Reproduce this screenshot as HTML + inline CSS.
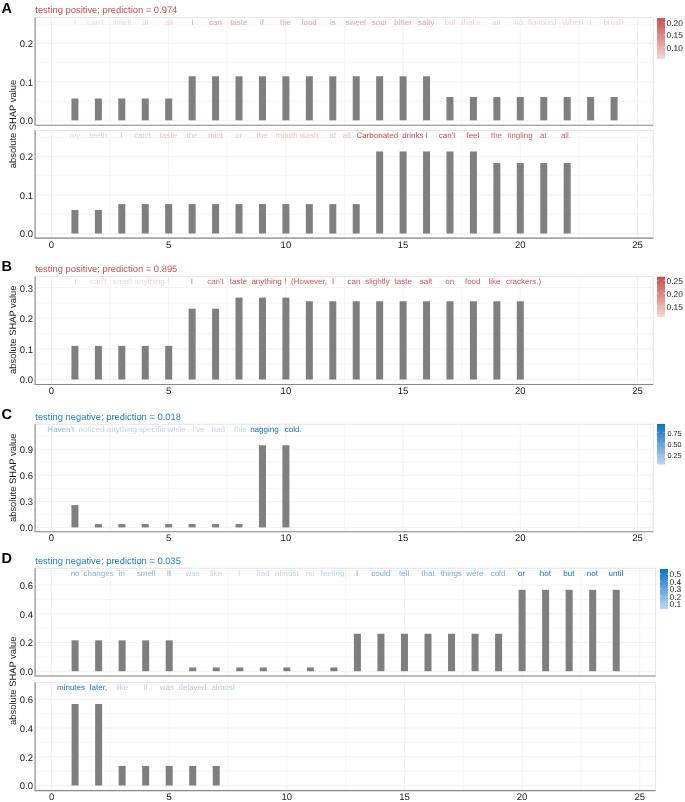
<!DOCTYPE html>
<html><head><meta charset="utf-8"><title>SHAP</title>
<style>html,body{margin:0;padding:0;background:#fff;width:685px;height:802px;overflow:hidden;}svg{display:block;-webkit-font-smoothing:antialiased;will-change:transform;} text{font-family:"Liberation Sans", sans-serif;text-rendering:geometricPrecision;}</style>
</head><body>
<svg width="685" height="802" viewBox="0 0 685 802" font-family='"Liberation Sans", sans-serif'>
<rect width="685" height="802" fill="#ffffff"/>
<text x="1.6" y="13.3" font-size="14.5" font-weight="bold" fill="#000">A</text>
<text x="35.3" y="12.7" font-size="9.4" fill="#cc4f4f">testing positive; prediction = 0.974</text>
<line x1="35.1" x2="653.3" y1="101.06" y2="101.06" stroke="#f4f4f4" stroke-width="0.8"/>
<line x1="35.1" x2="653.3" y1="62.58" y2="62.58" stroke="#f4f4f4" stroke-width="0.8"/>
<line x1="35.1" x2="653.3" y1="24.10" y2="24.10" stroke="#f4f4f4" stroke-width="0.8"/>
<line x1="35.1" x2="653.3" y1="120.30" y2="120.30" stroke="#efefef" stroke-width="0.9"/>
<line x1="35.1" x2="653.3" y1="81.82" y2="81.82" stroke="#efefef" stroke-width="0.9"/>
<line x1="35.1" x2="653.3" y1="43.34" y2="43.34" stroke="#efefef" stroke-width="0.9"/>
<line x1="51.50" x2="51.50" y1="17.6" y2="125.2" stroke="#efefef" stroke-width="0.9"/>
<line x1="110.10" x2="110.10" y1="17.6" y2="125.2" stroke="#f4f4f4" stroke-width="0.8"/>
<line x1="168.70" x2="168.70" y1="17.6" y2="125.2" stroke="#efefef" stroke-width="0.9"/>
<line x1="227.30" x2="227.30" y1="17.6" y2="125.2" stroke="#f4f4f4" stroke-width="0.8"/>
<line x1="285.90" x2="285.90" y1="17.6" y2="125.2" stroke="#efefef" stroke-width="0.9"/>
<line x1="344.50" x2="344.50" y1="17.6" y2="125.2" stroke="#f4f4f4" stroke-width="0.8"/>
<line x1="403.10" x2="403.10" y1="17.6" y2="125.2" stroke="#efefef" stroke-width="0.9"/>
<line x1="461.70" x2="461.70" y1="17.6" y2="125.2" stroke="#f4f4f4" stroke-width="0.8"/>
<line x1="520.30" x2="520.30" y1="17.6" y2="125.2" stroke="#efefef" stroke-width="0.9"/>
<line x1="578.90" x2="578.90" y1="17.6" y2="125.2" stroke="#f4f4f4" stroke-width="0.8"/>
<line x1="637.50" x2="637.50" y1="17.6" y2="125.2" stroke="#efefef" stroke-width="0.9"/>
<rect x="35.1" y="17.6" width="618.20" height="107.60" fill="none" stroke="#e6e6e6" stroke-width="1"/>
<rect x="71.44" y="98.52" width="7.0" height="21.78" fill="#7f7f7f"/>
<rect x="94.88" y="98.52" width="7.0" height="21.78" fill="#7f7f7f"/>
<rect x="118.32" y="98.52" width="7.0" height="21.78" fill="#7f7f7f"/>
<rect x="141.76" y="98.52" width="7.0" height="21.78" fill="#7f7f7f"/>
<rect x="165.20" y="98.52" width="7.0" height="21.78" fill="#7f7f7f"/>
<rect x="188.64" y="76.28" width="7.0" height="44.02" fill="#7f7f7f"/>
<rect x="212.08" y="76.28" width="7.0" height="44.02" fill="#7f7f7f"/>
<rect x="235.52" y="76.28" width="7.0" height="44.02" fill="#7f7f7f"/>
<rect x="258.96" y="76.28" width="7.0" height="44.02" fill="#7f7f7f"/>
<rect x="282.40" y="76.28" width="7.0" height="44.02" fill="#7f7f7f"/>
<rect x="305.84" y="76.28" width="7.0" height="44.02" fill="#7f7f7f"/>
<rect x="329.28" y="76.28" width="7.0" height="44.02" fill="#7f7f7f"/>
<rect x="352.72" y="76.28" width="7.0" height="44.02" fill="#7f7f7f"/>
<rect x="376.16" y="76.28" width="7.0" height="44.02" fill="#7f7f7f"/>
<rect x="399.60" y="76.28" width="7.0" height="44.02" fill="#7f7f7f"/>
<rect x="423.04" y="76.28" width="7.0" height="44.02" fill="#7f7f7f"/>
<rect x="446.48" y="97.02" width="7.0" height="23.28" fill="#7f7f7f"/>
<rect x="469.92" y="97.02" width="7.0" height="23.28" fill="#7f7f7f"/>
<rect x="493.36" y="97.02" width="7.0" height="23.28" fill="#7f7f7f"/>
<rect x="516.80" y="97.02" width="7.0" height="23.28" fill="#7f7f7f"/>
<rect x="540.24" y="97.02" width="7.0" height="23.28" fill="#7f7f7f"/>
<rect x="563.68" y="97.02" width="7.0" height="23.28" fill="#7f7f7f"/>
<rect x="587.12" y="97.02" width="7.0" height="23.28" fill="#7f7f7f"/>
<rect x="610.56" y="97.02" width="7.0" height="23.28" fill="#7f7f7f"/>
<text x="75.00" y="24.80" font-size="8.0" text-anchor="middle" fill="#f4d6d6">I</text>
<text x="95.70" y="24.80" font-size="8.0" text-anchor="middle" fill="#f4d6d6">can't</text>
<text x="121.80" y="24.80" font-size="8.0" text-anchor="middle" fill="#f4d6d6">smell</text>
<text x="145.30" y="24.80" font-size="8.0" text-anchor="middle" fill="#f4d6d6">at</text>
<text x="168.70" y="24.80" font-size="8.0" text-anchor="middle" fill="#f4d6d6">all</text>
<text x="192.30" y="24.80" font-size="8.0" text-anchor="middle" fill="#e5a3a3">I</text>
<text x="215.40" y="24.80" font-size="8.0" text-anchor="middle" fill="#e5a3a3">can</text>
<text x="238.80" y="24.80" font-size="8.0" text-anchor="middle" fill="#e5a3a3">taste</text>
<text x="261.90" y="24.80" font-size="8.0" text-anchor="middle" fill="#e5a3a3">if</text>
<text x="285.50" y="24.80" font-size="8.0" text-anchor="middle" fill="#e5a3a3">the</text>
<text x="309.00" y="24.80" font-size="8.0" text-anchor="middle" fill="#e5a3a3">food</text>
<text x="332.80" y="24.80" font-size="8.0" text-anchor="middle" fill="#e5a3a3">is</text>
<text x="355.90" y="24.80" font-size="8.0" text-anchor="middle" fill="#e5a3a3">sweet</text>
<text x="379.50" y="24.80" font-size="8.0" text-anchor="middle" fill="#e5a3a3">sour</text>
<text x="403.00" y="24.80" font-size="8.0" text-anchor="middle" fill="#e5a3a3">bitter</text>
<text x="426.30" y="24.80" font-size="8.0" text-anchor="middle" fill="#e5a3a3">salty</text>
<text x="450.00" y="24.80" font-size="8.0" text-anchor="middle" fill="#f3d2d2">but</text>
<text x="470.80" y="24.80" font-size="8.0" text-anchor="middle" fill="#f3d2d2">that's</text>
<text x="496.20" y="24.80" font-size="8.0" text-anchor="middle" fill="#f3d2d2">all</text>
<text x="518.80" y="24.80" font-size="8.0" text-anchor="middle" fill="#f3d2d2">no</text>
<text x="542.20" y="24.80" font-size="8.0" text-anchor="middle" fill="#f3d2d2">flavored</text>
<text x="572.70" y="24.80" font-size="8.0" text-anchor="middle" fill="#f3d2d2">When</text>
<text x="590.60" y="24.80" font-size="8.0" text-anchor="middle" fill="#f3d2d2">I</text>
<text x="613.40" y="24.80" font-size="8.0" text-anchor="middle" fill="#f3d2d2">brush</text>
<line x1="35.1" x2="35.1" y1="17.6" y2="125.2" stroke="#8a8a8a" stroke-width="1.1"/>
<line x1="34.550000000000004" x2="653.3" y1="125.2" y2="125.2" stroke="#8a8a8a" stroke-width="1.1"/>
<text x="33" y="124.10" font-size="9.5" text-anchor="end" fill="#1a1a1a">0.0</text>
<text x="33" y="85.62" font-size="9.5" text-anchor="end" fill="#1a1a1a">0.1</text>
<text x="33" y="47.14" font-size="9.5" text-anchor="end" fill="#1a1a1a">0.2</text>
<line x1="35.1" x2="653.3" y1="214.26" y2="214.26" stroke="#f4f4f4" stroke-width="0.8"/>
<line x1="35.1" x2="653.3" y1="175.78" y2="175.78" stroke="#f4f4f4" stroke-width="0.8"/>
<line x1="35.1" x2="653.3" y1="137.30" y2="137.30" stroke="#f4f4f4" stroke-width="0.8"/>
<line x1="35.1" x2="653.3" y1="233.50" y2="233.50" stroke="#efefef" stroke-width="0.9"/>
<line x1="35.1" x2="653.3" y1="195.02" y2="195.02" stroke="#efefef" stroke-width="0.9"/>
<line x1="35.1" x2="653.3" y1="156.54" y2="156.54" stroke="#efefef" stroke-width="0.9"/>
<line x1="51.50" x2="51.50" y1="130.4" y2="238.1" stroke="#efefef" stroke-width="0.9"/>
<line x1="110.10" x2="110.10" y1="130.4" y2="238.1" stroke="#f4f4f4" stroke-width="0.8"/>
<line x1="168.70" x2="168.70" y1="130.4" y2="238.1" stroke="#efefef" stroke-width="0.9"/>
<line x1="227.30" x2="227.30" y1="130.4" y2="238.1" stroke="#f4f4f4" stroke-width="0.8"/>
<line x1="285.90" x2="285.90" y1="130.4" y2="238.1" stroke="#efefef" stroke-width="0.9"/>
<line x1="344.50" x2="344.50" y1="130.4" y2="238.1" stroke="#f4f4f4" stroke-width="0.8"/>
<line x1="403.10" x2="403.10" y1="130.4" y2="238.1" stroke="#efefef" stroke-width="0.9"/>
<line x1="461.70" x2="461.70" y1="130.4" y2="238.1" stroke="#f4f4f4" stroke-width="0.8"/>
<line x1="520.30" x2="520.30" y1="130.4" y2="238.1" stroke="#efefef" stroke-width="0.9"/>
<line x1="578.90" x2="578.90" y1="130.4" y2="238.1" stroke="#f4f4f4" stroke-width="0.8"/>
<line x1="637.50" x2="637.50" y1="130.4" y2="238.1" stroke="#efefef" stroke-width="0.9"/>
<rect x="35.1" y="130.4" width="618.20" height="107.70" fill="none" stroke="#e6e6e6" stroke-width="1"/>
<rect x="71.44" y="209.99" width="7.0" height="23.51" fill="#7f7f7f"/>
<rect x="94.88" y="209.99" width="7.0" height="23.51" fill="#7f7f7f"/>
<rect x="118.32" y="204.10" width="7.0" height="29.40" fill="#7f7f7f"/>
<rect x="141.76" y="204.10" width="7.0" height="29.40" fill="#7f7f7f"/>
<rect x="165.20" y="204.10" width="7.0" height="29.40" fill="#7f7f7f"/>
<rect x="188.64" y="204.10" width="7.0" height="29.40" fill="#7f7f7f"/>
<rect x="212.08" y="204.10" width="7.0" height="29.40" fill="#7f7f7f"/>
<rect x="235.52" y="204.10" width="7.0" height="29.40" fill="#7f7f7f"/>
<rect x="258.96" y="204.10" width="7.0" height="29.40" fill="#7f7f7f"/>
<rect x="282.40" y="204.10" width="7.0" height="29.40" fill="#7f7f7f"/>
<rect x="305.84" y="204.10" width="7.0" height="29.40" fill="#7f7f7f"/>
<rect x="329.28" y="204.10" width="7.0" height="29.40" fill="#7f7f7f"/>
<rect x="352.72" y="204.10" width="7.0" height="29.40" fill="#7f7f7f"/>
<rect x="376.16" y="151.46" width="7.0" height="82.04" fill="#7f7f7f"/>
<rect x="399.60" y="151.46" width="7.0" height="82.04" fill="#7f7f7f"/>
<rect x="423.04" y="151.46" width="7.0" height="82.04" fill="#7f7f7f"/>
<rect x="446.48" y="151.46" width="7.0" height="82.04" fill="#7f7f7f"/>
<rect x="469.92" y="151.46" width="7.0" height="82.04" fill="#7f7f7f"/>
<rect x="493.36" y="163.08" width="7.0" height="70.42" fill="#7f7f7f"/>
<rect x="516.80" y="163.08" width="7.0" height="70.42" fill="#7f7f7f"/>
<rect x="540.24" y="163.08" width="7.0" height="70.42" fill="#7f7f7f"/>
<rect x="563.68" y="163.08" width="7.0" height="70.42" fill="#7f7f7f"/>
<text x="75.00" y="137.60" font-size="8.0" text-anchor="middle" fill="#f3d2d2">my</text>
<text x="98.30" y="137.60" font-size="8.0" text-anchor="middle" fill="#f3d2d2">teeth</text>
<text x="121.60" y="137.60" font-size="8.0" text-anchor="middle" fill="#efc5c5">I</text>
<text x="142.40" y="137.60" font-size="8.0" text-anchor="middle" fill="#efc5c5">can't</text>
<text x="168.50" y="137.60" font-size="8.0" text-anchor="middle" fill="#efc5c5">taste</text>
<text x="192.00" y="137.60" font-size="8.0" text-anchor="middle" fill="#efc5c5">the</text>
<text x="215.50" y="137.60" font-size="8.0" text-anchor="middle" fill="#efc5c5">mint</text>
<text x="238.80" y="137.60" font-size="8.0" text-anchor="middle" fill="#efc5c5">or</text>
<text x="262.10" y="137.60" font-size="8.0" text-anchor="middle" fill="#efc5c5">the</text>
<text x="286.60" y="137.60" font-size="8.0" text-anchor="middle" fill="#efc5c5">mouth</text>
<text x="309.00" y="137.60" font-size="8.0" text-anchor="middle" fill="#efc5c5">wash</text>
<text x="332.60" y="137.60" font-size="8.0" text-anchor="middle" fill="#efc5c5">at</text>
<text x="347.90" y="137.60" font-size="8.0" text-anchor="middle" fill="#efc5c5">all.</text>
<text x="377.30" y="137.60" font-size="8.0" text-anchor="middle" fill="#cc4c4c">Carbonated</text>
<text x="412.80" y="137.60" font-size="8.0" text-anchor="middle" fill="#cc4c4c">drinks</text>
<text x="426.30" y="137.60" font-size="8.0" text-anchor="middle" fill="#cc4c4c">I</text>
<text x="447.20" y="137.60" font-size="8.0" text-anchor="middle" fill="#cc4c4c">can't</text>
<text x="472.90" y="137.60" font-size="8.0" text-anchor="middle" fill="#cc4c4c">feel</text>
<text x="496.50" y="137.60" font-size="8.0" text-anchor="middle" fill="#d46767">the</text>
<text x="520.10" y="137.60" font-size="8.0" text-anchor="middle" fill="#d46767">tingling</text>
<text x="543.40" y="137.60" font-size="8.0" text-anchor="middle" fill="#d46767">at</text>
<text x="566.00" y="137.60" font-size="8.0" text-anchor="middle" fill="#d46767">all.</text>
<line x1="35.1" x2="35.1" y1="130.4" y2="238.1" stroke="#8a8a8a" stroke-width="1.1"/>
<line x1="34.550000000000004" x2="653.3" y1="238.1" y2="238.1" stroke="#8a8a8a" stroke-width="1.1"/>
<text x="33" y="237.30" font-size="9.5" text-anchor="end" fill="#1a1a1a">0.0</text>
<text x="33" y="198.82" font-size="9.5" text-anchor="end" fill="#1a1a1a">0.1</text>
<text x="33" y="160.34" font-size="9.5" text-anchor="end" fill="#1a1a1a">0.2</text>
<text x="51.50" y="247.70" font-size="9.5" text-anchor="middle" fill="#1a1a1a">0</text>
<text x="168.70" y="247.70" font-size="9.5" text-anchor="middle" fill="#1a1a1a">5</text>
<text x="285.90" y="247.70" font-size="9.5" text-anchor="middle" fill="#1a1a1a">10</text>
<text x="403.10" y="247.70" font-size="9.5" text-anchor="middle" fill="#1a1a1a">15</text>
<text x="520.30" y="247.70" font-size="9.5" text-anchor="middle" fill="#1a1a1a">20</text>
<text x="637.50" y="247.70" font-size="9.5" text-anchor="middle" fill="#1a1a1a">25</text>
<text transform="translate(16.2,124.0) rotate(-90)" font-size="9.4" text-anchor="middle" fill="#1a1a1a">absolute SHAP value</text>
<defs><linearGradient id="g18" x1="0" y1="0" x2="0" y2="1"><stop offset="0" stop-color="#cc4c4c"/><stop offset="1" stop-color="#f4d6d6"/></linearGradient></defs>
<rect x="657" y="18.1" width="8" height="40.80" fill="url(#g18)"/>
<line x1="657" x2="658.6" y1="22.36" y2="22.36" stroke="#ffffff" stroke-opacity="0.6" stroke-width="0.6"/>
<line x1="663.4" x2="665" y1="22.36" y2="22.36" stroke="#ffffff" stroke-opacity="0.6" stroke-width="0.6"/>
<text x="666.6" y="25.74" font-size="8.4" fill="#1a1a1a">0.20</text>
<line x1="657" x2="658.6" y1="34.87" y2="34.87" stroke="#ffffff" stroke-opacity="0.6" stroke-width="0.6"/>
<line x1="663.4" x2="665" y1="34.87" y2="34.87" stroke="#ffffff" stroke-opacity="0.6" stroke-width="0.6"/>
<text x="666.6" y="38.25" font-size="8.4" fill="#1a1a1a">0.15</text>
<line x1="657" x2="658.6" y1="47.39" y2="47.39" stroke="#ffffff" stroke-opacity="0.6" stroke-width="0.6"/>
<line x1="663.4" x2="665" y1="47.39" y2="47.39" stroke="#ffffff" stroke-opacity="0.6" stroke-width="0.6"/>
<text x="666.6" y="50.77" font-size="8.4" fill="#1a1a1a">0.10</text>
<text x="1.6" y="271.2" font-size="14.5" font-weight="bold" fill="#000">B</text>
<text x="35.3" y="272.0" font-size="9.4" fill="#cc4f4f">testing positive; prediction = 0.895</text>
<line x1="35.1" x2="653.3" y1="364.20" y2="364.20" stroke="#f4f4f4" stroke-width="0.8"/>
<line x1="35.1" x2="653.3" y1="333.60" y2="333.60" stroke="#f4f4f4" stroke-width="0.8"/>
<line x1="35.1" x2="653.3" y1="303.00" y2="303.00" stroke="#f4f4f4" stroke-width="0.8"/>
<line x1="35.1" x2="653.3" y1="379.50" y2="379.50" stroke="#efefef" stroke-width="0.9"/>
<line x1="35.1" x2="653.3" y1="348.90" y2="348.90" stroke="#efefef" stroke-width="0.9"/>
<line x1="35.1" x2="653.3" y1="318.30" y2="318.30" stroke="#efefef" stroke-width="0.9"/>
<line x1="35.1" x2="653.3" y1="287.70" y2="287.70" stroke="#efefef" stroke-width="0.9"/>
<line x1="51.50" x2="51.50" y1="276.6" y2="384.5" stroke="#efefef" stroke-width="0.9"/>
<line x1="110.10" x2="110.10" y1="276.6" y2="384.5" stroke="#f4f4f4" stroke-width="0.8"/>
<line x1="168.70" x2="168.70" y1="276.6" y2="384.5" stroke="#efefef" stroke-width="0.9"/>
<line x1="227.30" x2="227.30" y1="276.6" y2="384.5" stroke="#f4f4f4" stroke-width="0.8"/>
<line x1="285.90" x2="285.90" y1="276.6" y2="384.5" stroke="#efefef" stroke-width="0.9"/>
<line x1="344.50" x2="344.50" y1="276.6" y2="384.5" stroke="#f4f4f4" stroke-width="0.8"/>
<line x1="403.10" x2="403.10" y1="276.6" y2="384.5" stroke="#efefef" stroke-width="0.9"/>
<line x1="461.70" x2="461.70" y1="276.6" y2="384.5" stroke="#f4f4f4" stroke-width="0.8"/>
<line x1="520.30" x2="520.30" y1="276.6" y2="384.5" stroke="#efefef" stroke-width="0.9"/>
<line x1="578.90" x2="578.90" y1="276.6" y2="384.5" stroke="#f4f4f4" stroke-width="0.8"/>
<line x1="637.50" x2="637.50" y1="276.6" y2="384.5" stroke="#efefef" stroke-width="0.9"/>
<rect x="35.1" y="276.6" width="618.20" height="107.90" fill="none" stroke="#e6e6e6" stroke-width="1"/>
<rect x="71.44" y="345.90" width="7.0" height="33.60" fill="#7f7f7f"/>
<rect x="94.88" y="345.90" width="7.0" height="33.60" fill="#7f7f7f"/>
<rect x="118.32" y="345.90" width="7.0" height="33.60" fill="#7f7f7f"/>
<rect x="141.76" y="345.90" width="7.0" height="33.60" fill="#7f7f7f"/>
<rect x="165.20" y="345.90" width="7.0" height="33.60" fill="#7f7f7f"/>
<rect x="188.64" y="308.69" width="7.0" height="70.81" fill="#7f7f7f"/>
<rect x="212.08" y="308.69" width="7.0" height="70.81" fill="#7f7f7f"/>
<rect x="235.52" y="297.61" width="7.0" height="81.89" fill="#7f7f7f"/>
<rect x="258.96" y="297.61" width="7.0" height="81.89" fill="#7f7f7f"/>
<rect x="282.40" y="297.61" width="7.0" height="81.89" fill="#7f7f7f"/>
<rect x="305.84" y="301.29" width="7.0" height="78.21" fill="#7f7f7f"/>
<rect x="329.28" y="301.29" width="7.0" height="78.21" fill="#7f7f7f"/>
<rect x="352.72" y="301.29" width="7.0" height="78.21" fill="#7f7f7f"/>
<rect x="376.16" y="301.29" width="7.0" height="78.21" fill="#7f7f7f"/>
<rect x="399.60" y="301.29" width="7.0" height="78.21" fill="#7f7f7f"/>
<rect x="423.04" y="301.29" width="7.0" height="78.21" fill="#7f7f7f"/>
<rect x="446.48" y="301.29" width="7.0" height="78.21" fill="#7f7f7f"/>
<rect x="469.92" y="301.29" width="7.0" height="78.21" fill="#7f7f7f"/>
<rect x="493.36" y="301.29" width="7.0" height="78.21" fill="#7f7f7f"/>
<rect x="516.80" y="301.29" width="7.0" height="78.21" fill="#7f7f7f"/>
<text x="75.30" y="284.00" font-size="8.0" text-anchor="middle" fill="#f4d6d6">I</text>
<text x="98.40" y="284.00" font-size="8.0" text-anchor="middle" fill="#f4d6d6">can't</text>
<text x="122.60" y="284.00" font-size="8.0" text-anchor="middle" fill="#f4d6d6">smell</text>
<text x="149.70" y="284.00" font-size="8.0" text-anchor="middle" fill="#f4d6d6">anything</text>
<text x="168.60" y="284.00" font-size="8.0" text-anchor="middle" fill="#f4d6d6">!</text>
<text x="191.80" y="284.00" font-size="8.0" text-anchor="middle" fill="#d56c6c">I</text>
<text x="215.50" y="284.00" font-size="8.0" text-anchor="middle" fill="#d56c6c">can't</text>
<text x="238.50" y="284.00" font-size="8.0" text-anchor="middle" fill="#cc4c4c">taste</text>
<text x="266.50" y="284.00" font-size="8.0" text-anchor="middle" fill="#cc4c4c">anything</text>
<text x="285.30" y="284.00" font-size="8.0" text-anchor="middle" fill="#cc4c4c">!</text>
<text x="309.00" y="284.00" font-size="8.0" text-anchor="middle" fill="#cf5656">(However,</text>
<text x="333.00" y="284.00" font-size="8.0" text-anchor="middle" fill="#cf5656">I</text>
<text x="353.90" y="284.00" font-size="8.0" text-anchor="middle" fill="#cf5656">can</text>
<text x="377.40" y="284.00" font-size="8.0" text-anchor="middle" fill="#cf5656">slightly</text>
<text x="403.20" y="284.00" font-size="8.0" text-anchor="middle" fill="#cf5656">taste</text>
<text x="426.00" y="284.00" font-size="8.0" text-anchor="middle" fill="#cf5656">salt</text>
<text x="449.80" y="284.00" font-size="8.0" text-anchor="middle" fill="#cf5656">on</text>
<text x="472.70" y="284.00" font-size="8.0" text-anchor="middle" fill="#cf5656">food</text>
<text x="494.50" y="284.00" font-size="8.0" text-anchor="middle" fill="#cf5656">like</text>
<text x="523.50" y="284.00" font-size="8.0" text-anchor="middle" fill="#cf5656">crackers.)</text>
<line x1="35.1" x2="35.1" y1="276.6" y2="384.5" stroke="#8a8a8a" stroke-width="1.1"/>
<line x1="34.550000000000004" x2="653.3" y1="384.5" y2="384.5" stroke="#8a8a8a" stroke-width="1.1"/>
<text x="33" y="383.30" font-size="9.5" text-anchor="end" fill="#1a1a1a">0.0</text>
<text x="33" y="352.70" font-size="9.5" text-anchor="end" fill="#1a1a1a">0.1</text>
<text x="33" y="322.10" font-size="9.5" text-anchor="end" fill="#1a1a1a">0.2</text>
<text x="33" y="291.50" font-size="9.5" text-anchor="end" fill="#1a1a1a">0.3</text>
<text x="51.50" y="394.10" font-size="9.5" text-anchor="middle" fill="#1a1a1a">0</text>
<text x="168.70" y="394.10" font-size="9.5" text-anchor="middle" fill="#1a1a1a">5</text>
<text x="285.90" y="394.10" font-size="9.5" text-anchor="middle" fill="#1a1a1a">10</text>
<text x="403.10" y="394.10" font-size="9.5" text-anchor="middle" fill="#1a1a1a">15</text>
<text x="520.30" y="394.10" font-size="9.5" text-anchor="middle" fill="#1a1a1a">20</text>
<text x="637.50" y="394.10" font-size="9.5" text-anchor="middle" fill="#1a1a1a">25</text>
<text transform="translate(16.2,329.7) rotate(-90)" font-size="9.4" text-anchor="middle" fill="#1a1a1a">absolute SHAP value</text>
<defs><linearGradient id="g276" x1="0" y1="0" x2="0" y2="1"><stop offset="0" stop-color="#cc4c4c"/><stop offset="1" stop-color="#f4d6d6"/></linearGradient></defs>
<rect x="657" y="276.7" width="8" height="40.30" fill="url(#g276)"/>
<line x1="657" x2="658.6" y1="280.34" y2="280.34" stroke="#ffffff" stroke-opacity="0.6" stroke-width="0.6"/>
<line x1="663.4" x2="665" y1="280.34" y2="280.34" stroke="#ffffff" stroke-opacity="0.6" stroke-width="0.6"/>
<text x="666.6" y="283.72" font-size="8.4" fill="#1a1a1a">0.25</text>
<line x1="657" x2="658.6" y1="293.34" y2="293.34" stroke="#ffffff" stroke-opacity="0.6" stroke-width="0.6"/>
<line x1="663.4" x2="665" y1="293.34" y2="293.34" stroke="#ffffff" stroke-opacity="0.6" stroke-width="0.6"/>
<text x="666.6" y="296.72" font-size="8.4" fill="#1a1a1a">0.20</text>
<line x1="657" x2="658.6" y1="306.34" y2="306.34" stroke="#ffffff" stroke-opacity="0.6" stroke-width="0.6"/>
<line x1="663.4" x2="665" y1="306.34" y2="306.34" stroke="#ffffff" stroke-opacity="0.6" stroke-width="0.6"/>
<text x="666.6" y="309.72" font-size="8.4" fill="#1a1a1a">0.15</text>
<text x="1.6" y="418.8" font-size="14.5" font-weight="bold" fill="#000">C</text>
<text x="35.3" y="419.5" font-size="9.4" fill="#1e7bca">testing negative; prediction = 0.018</text>
<line x1="35.1" x2="653.3" y1="514.37" y2="514.37" stroke="#f4f4f4" stroke-width="0.8"/>
<line x1="35.1" x2="653.3" y1="488.29" y2="488.29" stroke="#f4f4f4" stroke-width="0.8"/>
<line x1="35.1" x2="653.3" y1="462.22" y2="462.22" stroke="#f4f4f4" stroke-width="0.8"/>
<line x1="35.1" x2="653.3" y1="436.15" y2="436.15" stroke="#f4f4f4" stroke-width="0.8"/>
<line x1="35.1" x2="653.3" y1="527.40" y2="527.40" stroke="#efefef" stroke-width="0.9"/>
<line x1="35.1" x2="653.3" y1="501.33" y2="501.33" stroke="#efefef" stroke-width="0.9"/>
<line x1="35.1" x2="653.3" y1="475.26" y2="475.26" stroke="#efefef" stroke-width="0.9"/>
<line x1="35.1" x2="653.3" y1="449.19" y2="449.19" stroke="#efefef" stroke-width="0.9"/>
<line x1="51.50" x2="51.50" y1="424.3" y2="531.7" stroke="#efefef" stroke-width="0.9"/>
<line x1="110.10" x2="110.10" y1="424.3" y2="531.7" stroke="#f4f4f4" stroke-width="0.8"/>
<line x1="168.70" x2="168.70" y1="424.3" y2="531.7" stroke="#efefef" stroke-width="0.9"/>
<line x1="227.30" x2="227.30" y1="424.3" y2="531.7" stroke="#f4f4f4" stroke-width="0.8"/>
<line x1="285.90" x2="285.90" y1="424.3" y2="531.7" stroke="#efefef" stroke-width="0.9"/>
<line x1="344.50" x2="344.50" y1="424.3" y2="531.7" stroke="#f4f4f4" stroke-width="0.8"/>
<line x1="403.10" x2="403.10" y1="424.3" y2="531.7" stroke="#efefef" stroke-width="0.9"/>
<line x1="461.70" x2="461.70" y1="424.3" y2="531.7" stroke="#f4f4f4" stroke-width="0.8"/>
<line x1="520.30" x2="520.30" y1="424.3" y2="531.7" stroke="#efefef" stroke-width="0.9"/>
<line x1="578.90" x2="578.90" y1="424.3" y2="531.7" stroke="#f4f4f4" stroke-width="0.8"/>
<line x1="637.50" x2="637.50" y1="424.3" y2="531.7" stroke="#efefef" stroke-width="0.9"/>
<rect x="35.1" y="424.3" width="618.20" height="107.40" fill="none" stroke="#e6e6e6" stroke-width="1"/>
<rect x="71.44" y="505.10" width="7.0" height="22.30" fill="#7f7f7f"/>
<rect x="94.88" y="524.10" width="7.0" height="3.30" fill="#7f7f7f"/>
<rect x="118.32" y="524.10" width="7.0" height="3.30" fill="#7f7f7f"/>
<rect x="141.76" y="524.10" width="7.0" height="3.30" fill="#7f7f7f"/>
<rect x="165.20" y="524.10" width="7.0" height="3.30" fill="#7f7f7f"/>
<rect x="188.64" y="524.10" width="7.0" height="3.30" fill="#7f7f7f"/>
<rect x="212.08" y="524.10" width="7.0" height="3.30" fill="#7f7f7f"/>
<rect x="235.52" y="524.10" width="7.0" height="3.30" fill="#7f7f7f"/>
<rect x="258.96" y="445.28" width="7.0" height="82.12" fill="#7f7f7f"/>
<rect x="282.40" y="445.28" width="7.0" height="82.12" fill="#7f7f7f"/>
<text x="60.80" y="432.40" font-size="8.0" text-anchor="middle" fill="#94c0e4">Haven't</text>
<text x="91.50" y="432.40" font-size="8.0" text-anchor="middle" fill="#bed8ee">noticed</text>
<text x="121.90" y="432.40" font-size="8.0" text-anchor="middle" fill="#bed8ee">anything</text>
<text x="152.00" y="432.40" font-size="8.0" text-anchor="middle" fill="#bed8ee">specific</text>
<text x="176.50" y="432.40" font-size="8.0" text-anchor="middle" fill="#bed8ee">while</text>
<text x="198.30" y="432.40" font-size="8.0" text-anchor="middle" fill="#bed8ee">I've</text>
<text x="218.30" y="432.40" font-size="8.0" text-anchor="middle" fill="#bed8ee">had</text>
<text x="240.20" y="432.40" font-size="8.0" text-anchor="middle" fill="#bed8ee">this</text>
<text x="264.40" y="432.40" font-size="8.0" text-anchor="middle" fill="#0c71c3">nagging</text>
<text x="293.30" y="432.40" font-size="8.0" text-anchor="middle" fill="#0c71c3">cold.</text>
<line x1="35.1" x2="35.1" y1="424.3" y2="531.7" stroke="#8a8a8a" stroke-width="1.1"/>
<line x1="34.550000000000004" x2="653.3" y1="531.7" y2="531.7" stroke="#8a8a8a" stroke-width="1.1"/>
<text x="33" y="531.20" font-size="9.5" text-anchor="end" fill="#1a1a1a">0.0</text>
<text x="33" y="505.13" font-size="9.5" text-anchor="end" fill="#1a1a1a">0.3</text>
<text x="33" y="479.06" font-size="9.5" text-anchor="end" fill="#1a1a1a">0.6</text>
<text x="33" y="452.99" font-size="9.5" text-anchor="end" fill="#1a1a1a">0.9</text>
<text x="51.50" y="541.30" font-size="9.5" text-anchor="middle" fill="#1a1a1a">0</text>
<text x="168.70" y="541.30" font-size="9.5" text-anchor="middle" fill="#1a1a1a">5</text>
<text x="285.90" y="541.30" font-size="9.5" text-anchor="middle" fill="#1a1a1a">10</text>
<text x="403.10" y="541.30" font-size="9.5" text-anchor="middle" fill="#1a1a1a">15</text>
<text x="520.30" y="541.30" font-size="9.5" text-anchor="middle" fill="#1a1a1a">20</text>
<text x="637.50" y="541.30" font-size="9.5" text-anchor="middle" fill="#1a1a1a">25</text>
<text transform="translate(16.2,477.8) rotate(-90)" font-size="9.4" text-anchor="middle" fill="#1a1a1a">absolute SHAP value</text>
<defs><linearGradient id="g423" x1="0" y1="0" x2="0" y2="1"><stop offset="0" stop-color="#0c71c3"/><stop offset="1" stop-color="#bed8ee"/></linearGradient></defs>
<rect x="657" y="423.9" width="8" height="40.60" fill="url(#g423)"/>
<line x1="657" x2="658.6" y1="432.55" y2="432.55" stroke="#ffffff" stroke-opacity="0.6" stroke-width="0.6"/>
<line x1="663.4" x2="665" y1="432.55" y2="432.55" stroke="#ffffff" stroke-opacity="0.6" stroke-width="0.6"/>
<text x="667.5" y="435.50" font-size="7.2" fill="#1a1a1a">0.75</text>
<line x1="657" x2="658.6" y1="443.93" y2="443.93" stroke="#ffffff" stroke-opacity="0.6" stroke-width="0.6"/>
<line x1="663.4" x2="665" y1="443.93" y2="443.93" stroke="#ffffff" stroke-opacity="0.6" stroke-width="0.6"/>
<text x="667.5" y="446.88" font-size="7.2" fill="#1a1a1a">0.50</text>
<line x1="657" x2="658.6" y1="455.31" y2="455.31" stroke="#ffffff" stroke-opacity="0.6" stroke-width="0.6"/>
<line x1="663.4" x2="665" y1="455.31" y2="455.31" stroke="#ffffff" stroke-opacity="0.6" stroke-width="0.6"/>
<text x="667.5" y="458.26" font-size="7.2" fill="#1a1a1a">0.25</text>
<text x="1.6" y="563.2" font-size="14.5" font-weight="bold" fill="#000">D</text>
<text x="35.3" y="563.8" font-size="9.4" fill="#1e7bca">testing negative; prediction = 0.035</text>
<line x1="35.1" x2="655.6" y1="656.85" y2="656.85" stroke="#f4f4f4" stroke-width="0.8"/>
<line x1="35.1" x2="655.6" y1="628.15" y2="628.15" stroke="#f4f4f4" stroke-width="0.8"/>
<line x1="35.1" x2="655.6" y1="599.45" y2="599.45" stroke="#f4f4f4" stroke-width="0.8"/>
<line x1="35.1" x2="655.6" y1="570.75" y2="570.75" stroke="#f4f4f4" stroke-width="0.8"/>
<line x1="35.1" x2="655.6" y1="671.20" y2="671.20" stroke="#efefef" stroke-width="0.9"/>
<line x1="35.1" x2="655.6" y1="642.50" y2="642.50" stroke="#efefef" stroke-width="0.9"/>
<line x1="35.1" x2="655.6" y1="613.80" y2="613.80" stroke="#efefef" stroke-width="0.9"/>
<line x1="35.1" x2="655.6" y1="585.10" y2="585.10" stroke="#efefef" stroke-width="0.9"/>
<line x1="51.56" x2="51.56" y1="568.3" y2="676.0" stroke="#efefef" stroke-width="0.9"/>
<line x1="110.38" x2="110.38" y1="568.3" y2="676.0" stroke="#f4f4f4" stroke-width="0.8"/>
<line x1="169.20" x2="169.20" y1="568.3" y2="676.0" stroke="#efefef" stroke-width="0.9"/>
<line x1="228.02" x2="228.02" y1="568.3" y2="676.0" stroke="#f4f4f4" stroke-width="0.8"/>
<line x1="286.83" x2="286.83" y1="568.3" y2="676.0" stroke="#efefef" stroke-width="0.9"/>
<line x1="345.65" x2="345.65" y1="568.3" y2="676.0" stroke="#f4f4f4" stroke-width="0.8"/>
<line x1="404.47" x2="404.47" y1="568.3" y2="676.0" stroke="#efefef" stroke-width="0.9"/>
<line x1="463.29" x2="463.29" y1="568.3" y2="676.0" stroke="#f4f4f4" stroke-width="0.8"/>
<line x1="522.11" x2="522.11" y1="568.3" y2="676.0" stroke="#efefef" stroke-width="0.9"/>
<line x1="580.92" x2="580.92" y1="568.3" y2="676.0" stroke="#f4f4f4" stroke-width="0.8"/>
<line x1="639.74" x2="639.74" y1="568.3" y2="676.0" stroke="#efefef" stroke-width="0.9"/>
<rect x="35.1" y="568.3" width="620.50" height="107.70" fill="none" stroke="#e6e6e6" stroke-width="1"/>
<rect x="71.59" y="640.35" width="7.0" height="30.85" fill="#7f7f7f"/>
<rect x="95.12" y="640.35" width="7.0" height="30.85" fill="#7f7f7f"/>
<rect x="118.64" y="640.35" width="7.0" height="30.85" fill="#7f7f7f"/>
<rect x="142.17" y="640.35" width="7.0" height="30.85" fill="#7f7f7f"/>
<rect x="165.70" y="640.35" width="7.0" height="30.85" fill="#7f7f7f"/>
<rect x="189.23" y="667.47" width="7.0" height="3.73" fill="#7f7f7f"/>
<rect x="212.75" y="667.47" width="7.0" height="3.73" fill="#7f7f7f"/>
<rect x="236.28" y="667.47" width="7.0" height="3.73" fill="#7f7f7f"/>
<rect x="259.81" y="667.47" width="7.0" height="3.73" fill="#7f7f7f"/>
<rect x="283.33" y="667.47" width="7.0" height="3.73" fill="#7f7f7f"/>
<rect x="306.86" y="667.47" width="7.0" height="3.73" fill="#7f7f7f"/>
<rect x="330.39" y="667.47" width="7.0" height="3.73" fill="#7f7f7f"/>
<rect x="353.92" y="633.75" width="7.0" height="37.45" fill="#7f7f7f"/>
<rect x="377.44" y="633.75" width="7.0" height="37.45" fill="#7f7f7f"/>
<rect x="400.97" y="633.75" width="7.0" height="37.45" fill="#7f7f7f"/>
<rect x="424.50" y="633.75" width="7.0" height="37.45" fill="#7f7f7f"/>
<rect x="448.02" y="633.75" width="7.0" height="37.45" fill="#7f7f7f"/>
<rect x="471.55" y="633.75" width="7.0" height="37.45" fill="#7f7f7f"/>
<rect x="495.08" y="633.75" width="7.0" height="37.45" fill="#7f7f7f"/>
<rect x="518.61" y="589.84" width="7.0" height="81.36" fill="#7f7f7f"/>
<rect x="542.13" y="589.84" width="7.0" height="81.36" fill="#7f7f7f"/>
<rect x="565.66" y="589.84" width="7.0" height="81.36" fill="#7f7f7f"/>
<rect x="589.19" y="589.84" width="7.0" height="81.36" fill="#7f7f7f"/>
<rect x="612.72" y="589.84" width="7.0" height="81.36" fill="#7f7f7f"/>
<text x="75.10" y="576.40" font-size="8.0" text-anchor="middle" fill="#81b5df">no</text>
<text x="98.60" y="576.40" font-size="8.0" text-anchor="middle" fill="#81b5df">changes</text>
<text x="121.80" y="576.40" font-size="8.0" text-anchor="middle" fill="#81b5df">in</text>
<text x="146.10" y="576.40" font-size="8.0" text-anchor="middle" fill="#81b5df">smell</text>
<text x="169.00" y="576.40" font-size="8.0" text-anchor="middle" fill="#81b5df">It</text>
<text x="192.60" y="576.40" font-size="8.0" text-anchor="middle" fill="#bed8ee">was</text>
<text x="215.90" y="576.40" font-size="8.0" text-anchor="middle" fill="#bed8ee">like</text>
<text x="239.20" y="576.40" font-size="8.0" text-anchor="middle" fill="#bed8ee">I</text>
<text x="263.00" y="576.40" font-size="8.0" text-anchor="middle" fill="#bed8ee">had</text>
<text x="286.90" y="576.40" font-size="8.0" text-anchor="middle" fill="#bed8ee">almost</text>
<text x="310.10" y="576.40" font-size="8.0" text-anchor="middle" fill="#bed8ee">no</text>
<text x="333.70" y="576.40" font-size="8.0" text-anchor="middle" fill="#bed8ee">feeling,</text>
<text x="357.10" y="576.40" font-size="8.0" text-anchor="middle" fill="#71acdb">I</text>
<text x="380.70" y="576.40" font-size="8.0" text-anchor="middle" fill="#71acdb">could</text>
<text x="404.20" y="576.40" font-size="8.0" text-anchor="middle" fill="#71acdb">tell</text>
<text x="428.00" y="576.40" font-size="8.0" text-anchor="middle" fill="#71acdb">that</text>
<text x="451.20" y="576.40" font-size="8.0" text-anchor="middle" fill="#71acdb">things</text>
<text x="474.80" y="576.40" font-size="8.0" text-anchor="middle" fill="#71acdb">were</text>
<text x="498.00" y="576.40" font-size="8.0" text-anchor="middle" fill="#71acdb">cold</text>
<text x="521.60" y="576.40" font-size="8.0" text-anchor="middle" fill="#0c71c3">or</text>
<text x="545.40" y="576.40" font-size="8.0" text-anchor="middle" fill="#0c71c3">hot</text>
<text x="568.90" y="576.40" font-size="8.0" text-anchor="middle" fill="#0c71c3">but</text>
<text x="592.40" y="576.40" font-size="8.0" text-anchor="middle" fill="#0c71c3">not</text>
<text x="615.90" y="576.40" font-size="8.0" text-anchor="middle" fill="#0c71c3">until</text>
<line x1="35.1" x2="35.1" y1="568.3" y2="676.0" stroke="#8a8a8a" stroke-width="1.1"/>
<line x1="34.550000000000004" x2="655.6" y1="676.0" y2="676.0" stroke="#8a8a8a" stroke-width="1.1"/>
<text x="33" y="675.00" font-size="9.5" text-anchor="end" fill="#1a1a1a">0.0</text>
<text x="33" y="646.30" font-size="9.5" text-anchor="end" fill="#1a1a1a">0.2</text>
<text x="33" y="617.60" font-size="9.5" text-anchor="end" fill="#1a1a1a">0.4</text>
<text x="33" y="588.90" font-size="9.5" text-anchor="end" fill="#1a1a1a">0.6</text>
<line x1="35.1" x2="655.6" y1="771.12" y2="771.12" stroke="#f4f4f4" stroke-width="0.8"/>
<line x1="35.1" x2="655.6" y1="742.36" y2="742.36" stroke="#f4f4f4" stroke-width="0.8"/>
<line x1="35.1" x2="655.6" y1="713.60" y2="713.60" stroke="#f4f4f4" stroke-width="0.8"/>
<line x1="35.1" x2="655.6" y1="684.84" y2="684.84" stroke="#f4f4f4" stroke-width="0.8"/>
<line x1="35.1" x2="655.6" y1="785.50" y2="785.50" stroke="#efefef" stroke-width="0.9"/>
<line x1="35.1" x2="655.6" y1="756.74" y2="756.74" stroke="#efefef" stroke-width="0.9"/>
<line x1="35.1" x2="655.6" y1="727.98" y2="727.98" stroke="#efefef" stroke-width="0.9"/>
<line x1="35.1" x2="655.6" y1="699.22" y2="699.22" stroke="#efefef" stroke-width="0.9"/>
<line x1="51.56" x2="51.56" y1="682.6" y2="790.6" stroke="#efefef" stroke-width="0.9"/>
<line x1="110.38" x2="110.38" y1="682.6" y2="790.6" stroke="#f4f4f4" stroke-width="0.8"/>
<line x1="169.20" x2="169.20" y1="682.6" y2="790.6" stroke="#efefef" stroke-width="0.9"/>
<line x1="228.02" x2="228.02" y1="682.6" y2="790.6" stroke="#f4f4f4" stroke-width="0.8"/>
<line x1="286.83" x2="286.83" y1="682.6" y2="790.6" stroke="#efefef" stroke-width="0.9"/>
<line x1="345.65" x2="345.65" y1="682.6" y2="790.6" stroke="#f4f4f4" stroke-width="0.8"/>
<line x1="404.47" x2="404.47" y1="682.6" y2="790.6" stroke="#efefef" stroke-width="0.9"/>
<line x1="463.29" x2="463.29" y1="682.6" y2="790.6" stroke="#f4f4f4" stroke-width="0.8"/>
<line x1="522.11" x2="522.11" y1="682.6" y2="790.6" stroke="#efefef" stroke-width="0.9"/>
<line x1="580.92" x2="580.92" y1="682.6" y2="790.6" stroke="#f4f4f4" stroke-width="0.8"/>
<line x1="639.74" x2="639.74" y1="682.6" y2="790.6" stroke="#efefef" stroke-width="0.9"/>
<rect x="35.1" y="682.6" width="620.50" height="108.00" fill="none" stroke="#e6e6e6" stroke-width="1"/>
<rect x="71.59" y="703.97" width="7.0" height="81.53" fill="#7f7f7f"/>
<rect x="95.12" y="703.97" width="7.0" height="81.53" fill="#7f7f7f"/>
<rect x="118.64" y="765.94" width="7.0" height="19.56" fill="#7f7f7f"/>
<rect x="142.17" y="765.94" width="7.0" height="19.56" fill="#7f7f7f"/>
<rect x="165.70" y="765.94" width="7.0" height="19.56" fill="#7f7f7f"/>
<rect x="189.23" y="765.94" width="7.0" height="19.56" fill="#7f7f7f"/>
<rect x="212.75" y="765.94" width="7.0" height="19.56" fill="#7f7f7f"/>
<text x="71.00" y="690.25" font-size="8.0" text-anchor="middle" fill="#0f72c4">minutes</text>
<text x="98.50" y="690.25" font-size="8.0" text-anchor="middle" fill="#0f72c4">later,</text>
<text x="122.30" y="690.25" font-size="8.0" text-anchor="middle" fill="#afcfea">like</text>
<text x="145.40" y="690.25" font-size="8.0" text-anchor="middle" fill="#afcfea">it</text>
<text x="166.90" y="690.25" font-size="8.0" text-anchor="middle" fill="#afcfea">was</text>
<text x="192.50" y="690.25" font-size="8.0" text-anchor="middle" fill="#afcfea">delayed</text>
<text x="223.20" y="690.25" font-size="8.0" text-anchor="middle" fill="#afcfea">almost</text>
<line x1="35.1" x2="35.1" y1="682.6" y2="790.6" stroke="#8a8a8a" stroke-width="1.1"/>
<line x1="34.550000000000004" x2="655.6" y1="790.6" y2="790.6" stroke="#8a8a8a" stroke-width="1.1"/>
<text x="33" y="789.30" font-size="9.5" text-anchor="end" fill="#1a1a1a">0.0</text>
<text x="33" y="760.54" font-size="9.5" text-anchor="end" fill="#1a1a1a">0.2</text>
<text x="33" y="731.78" font-size="9.5" text-anchor="end" fill="#1a1a1a">0.4</text>
<text x="33" y="703.02" font-size="9.5" text-anchor="end" fill="#1a1a1a">0.6</text>
<text x="51.56" y="800.20" font-size="9.5" text-anchor="middle" fill="#1a1a1a">0</text>
<text x="169.20" y="800.20" font-size="9.5" text-anchor="middle" fill="#1a1a1a">5</text>
<text x="286.83" y="800.20" font-size="9.5" text-anchor="middle" fill="#1a1a1a">10</text>
<text x="404.47" y="800.20" font-size="9.5" text-anchor="middle" fill="#1a1a1a">15</text>
<text x="522.11" y="800.20" font-size="9.5" text-anchor="middle" fill="#1a1a1a">20</text>
<text x="639.74" y="800.20" font-size="9.5" text-anchor="middle" fill="#1a1a1a">25</text>
<text transform="translate(16.2,680.7) rotate(-90)" font-size="9.4" text-anchor="middle" fill="#1a1a1a">absolute SHAP value</text>
<defs><linearGradient id="g568" x1="0" y1="0" x2="0" y2="1"><stop offset="0" stop-color="#0c71c3"/><stop offset="1" stop-color="#bed8ee"/></linearGradient></defs>
<rect x="660" y="568.9" width="8" height="40.10" fill="url(#g568)"/>
<line x1="660" x2="661.6" y1="574.07" y2="574.07" stroke="#ffffff" stroke-opacity="0.6" stroke-width="0.6"/>
<line x1="666.4" x2="668" y1="574.07" y2="574.07" stroke="#ffffff" stroke-opacity="0.6" stroke-width="0.6"/>
<text x="669.6" y="577.45" font-size="8.4" fill="#1a1a1a">0.5</text>
<line x1="660" x2="661.6" y1="581.45" y2="581.45" stroke="#ffffff" stroke-opacity="0.6" stroke-width="0.6"/>
<line x1="666.4" x2="668" y1="581.45" y2="581.45" stroke="#ffffff" stroke-opacity="0.6" stroke-width="0.6"/>
<text x="669.6" y="584.84" font-size="8.4" fill="#1a1a1a">0.4</text>
<line x1="660" x2="661.6" y1="588.84" y2="588.84" stroke="#ffffff" stroke-opacity="0.6" stroke-width="0.6"/>
<line x1="666.4" x2="668" y1="588.84" y2="588.84" stroke="#ffffff" stroke-opacity="0.6" stroke-width="0.6"/>
<text x="669.6" y="592.22" font-size="8.4" fill="#1a1a1a">0.3</text>
<line x1="660" x2="661.6" y1="596.22" y2="596.22" stroke="#ffffff" stroke-opacity="0.6" stroke-width="0.6"/>
<line x1="666.4" x2="668" y1="596.22" y2="596.22" stroke="#ffffff" stroke-opacity="0.6" stroke-width="0.6"/>
<text x="669.6" y="599.61" font-size="8.4" fill="#1a1a1a">0.2</text>
<line x1="660" x2="661.6" y1="603.61" y2="603.61" stroke="#ffffff" stroke-opacity="0.6" stroke-width="0.6"/>
<line x1="666.4" x2="668" y1="603.61" y2="603.61" stroke="#ffffff" stroke-opacity="0.6" stroke-width="0.6"/>
<text x="669.6" y="606.99" font-size="8.4" fill="#1a1a1a">0.1</text>
</svg>
</body></html>
